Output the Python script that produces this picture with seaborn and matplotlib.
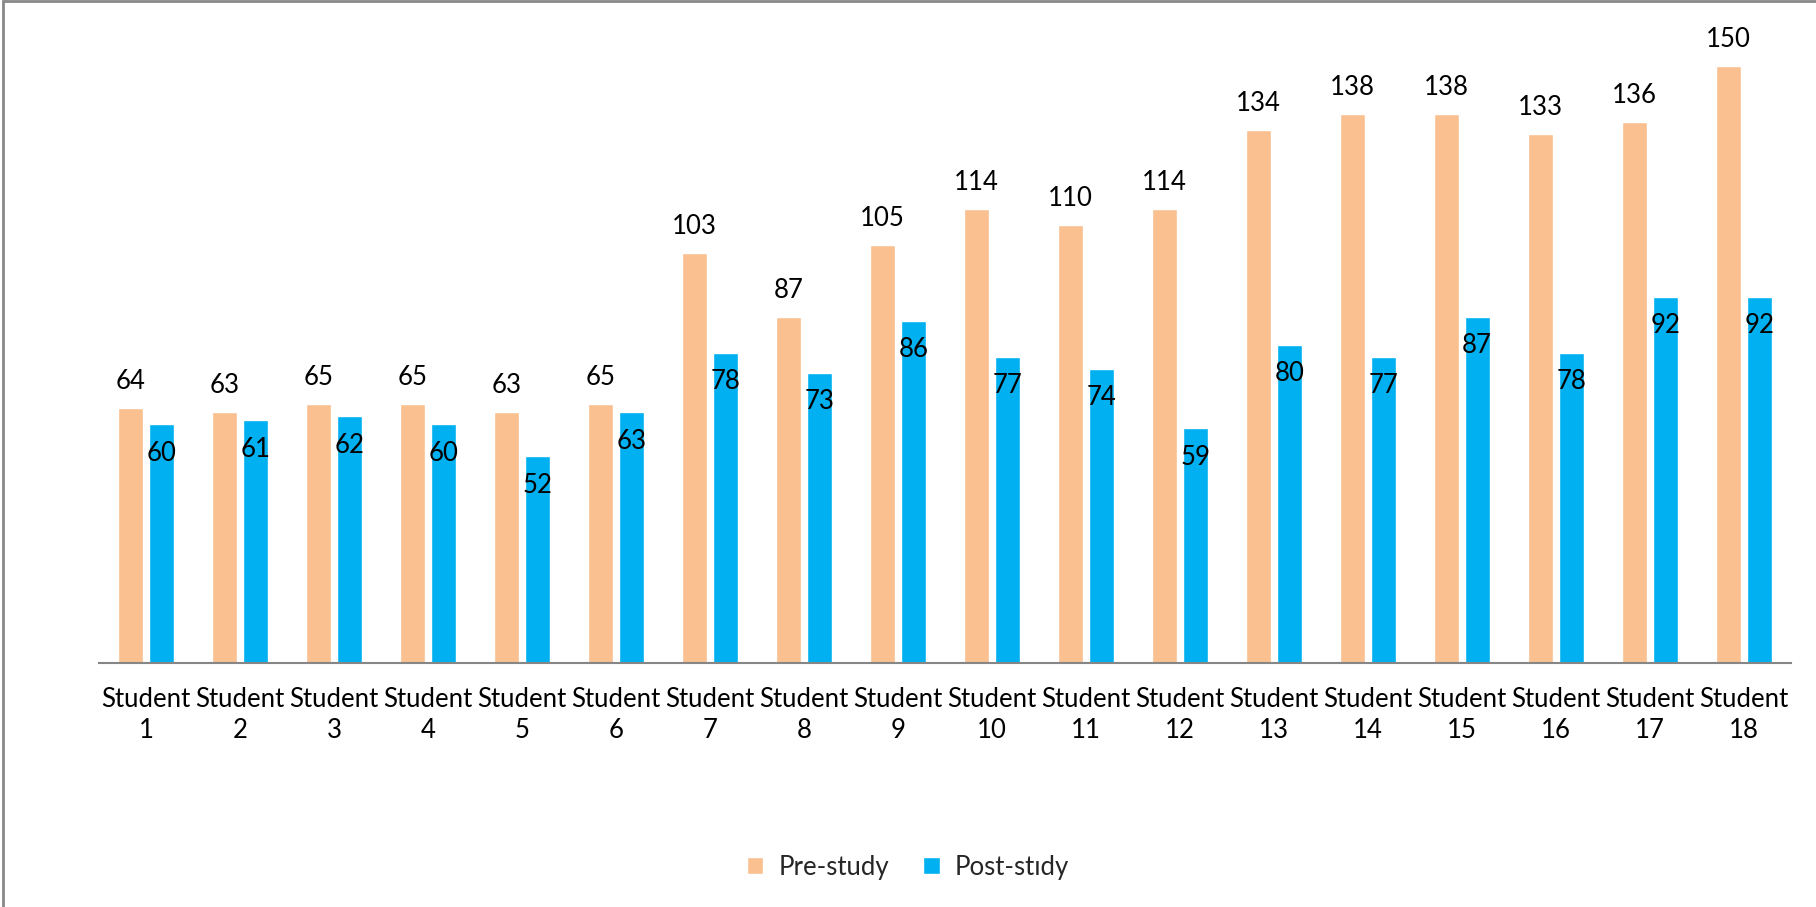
import matplotlib
matplotlib.use("Agg")
import matplotlib.pyplot as plt
import seaborn as sns
import pandas as pd
from matplotlib.patches import Rectangle

# Scores per student before and after the study
students = [f"Student\n{i}" for i in range(1, 19)]
pre_study = [64, 63, 65, 65, 63, 65, 103, 87, 105, 114, 110, 114, 134, 138, 138, 133, 136, 150]
post_study = [60, 61, 62, 60, 52, 63, 78, 73, 86, 77, 74, 59, 80, 77, 87, 78, 92, 92]
series_names = ["Pre-study", "Post-stıdy"]
colors = ["#FAC090", "#00B0F0"]

df = pd.DataFrame({
    "student": students * 2,
    "score": pre_study + post_study,
    "series": [series_names[0]] * len(students) + [series_names[1]] * len(students),
})

sns.set_theme(style="white")
plt.rcParams["font.family"] = ["Lato", "DejaVu Sans"]

FS = 18.5

fig = plt.figure(figsize=(18.16, 9.07), dpi=100)
ax = fig.add_axes([0.0545, 0.269, 0.9315, 0.702])

sns.barplot(data=df, x="student", y="score", hue="series", order=students,
            hue_order=series_names, palette=colors, width=0.66, gap=0.19,
            saturation=1, ax=ax, legend=True)

ax.set_ylim(0, 160)
ax.set_xlim(-0.5, len(students) - 0.5)
ax.set_xlabel("")
ax.set_ylabel("")
ax.set_yticks([])
for side in ["top", "right", "left"]:
    ax.spines[side].set_visible(False)
ax.spines["bottom"].set_color("#868686")
ax.spines["bottom"].set_linewidth(1.5)
ax.tick_params(axis="x", length=0, labelsize=FS, pad=17, colors="black")
for lbl in ax.get_xticklabels():
    lbl.set_linespacing(1.3)

# Value labels: above the pre-study bars, just inside the top of post-study bars
pre_bars, post_bars = ax.containers[0], ax.containers[1]
ax.bar_label(pre_bars, labels=[str(v) for v in pre_study], padding=10,
             fontsize=FS, color="black")
for bar, v in zip(post_bars, post_study):
    ax.annotate(str(v), (bar.get_x() + bar.get_width() / 2, bar.get_height()),
                xytext=(0, -29), textcoords="offset pixels",
                ha="center", va="center", fontsize=FS, color="black")

handles, _ = ax.get_legend_handles_labels()
ax.get_legend().remove()
fig.legend(handles, series_names, loc="center", bbox_to_anchor=(0.5, 0.044),
           ncol=2, frameon=False, fontsize=FS, handlelength=0.65,
           handleheight=0.65, handletextpad=0.6, columnspacing=1.3)

# Chart-area frame
fig.patches.append(Rectangle((0.0015, -0.01), 1.2, 1.0085, transform=fig.transFigure,
                             fill=False, edgecolor="#888888", linewidth=2))

fig.savefig("out.png", dpi=100)
